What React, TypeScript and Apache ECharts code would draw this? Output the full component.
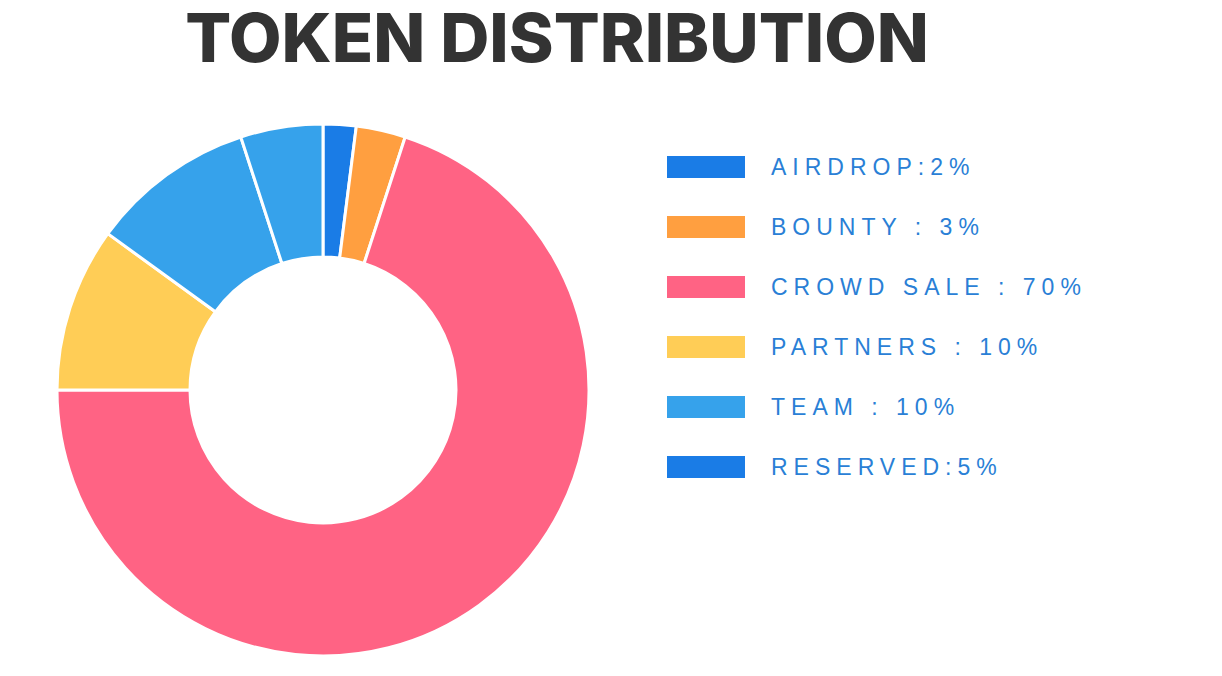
import React, { useEffect, useRef } from "react";
import * as echarts from "echarts";

const titleText = "TOKEN DISTRIBUTION";
const categories = ["AIRDROP:2%", "BOUNTY : 3%", "CROWD SALE : 70%", "PARTNERS : 10%", "TEAM : 10%", "RESERVED:5%"];
const values = [2, 3, 70, 10, 10, 5];
const sliceColors = ["#1A7CE6", "#FF9F40", "#FF6384", "#FFCD56", "#36A2EB", "#36A2EB"];
const legendColors = ["#1A7CE6", "#FF9F40", "#FF6384", "#FFCD56", "#36A2EB", "#1A7CE6"];

export default function App() {
  const ref = useRef<HTMLDivElement>(null);
  useEffect(() => {
    document.body.style.margin = "0";
    const chart = echarts.init(ref.current!, null, { renderer: "svg" });
    chart.setOption({
      animation: false,
      title: {
        text: titleText,
        left: 557,
        top: 3,
        padding: 0,
        textAlign: "center",
        textStyle: { fontFamily: "Inter", fontWeight: 800, fontSize: 68, lineHeight: 68, color: "#333333" },
      },
      legend: {
        orient: "vertical",
        left: 660,
        top: 149,
        itemWidth: 80,
        itemHeight: 24,
        itemGap: 34,
        icon: "rect",
        selectedMode: false,
        data: categories.map((c, i) => ({ name: c, itemStyle: { color: legendColors[i] } })),
        textStyle: {
          fontFamily: "Liberation Sans",
          fontSize: 23,
          lineHeight: 24,
          color: "#2A7FD6",
          padding: [0, 0, 0, 20],
        },
      },
      series: [
        {
          type: "pie",
          center: [323, 390],
          radius: [133, 266],
          startAngle: 90,
          clockwise: true,
          label: { show: false },
          labelLine: { show: false },
          emphasis: { disabled: true },
          itemStyle: { borderColor: "#ffffff", borderWidth: 3 },
          data: categories.map((c, i) => ({ name: c, value: values[i], itemStyle: { color: sliceColors[i] } })),
        },
      ],
    });
    const texts = ref.current!.querySelectorAll("text");
    texts.forEach((t) => {
      if (categories.includes(t.textContent || "")) {
        t.setAttribute("letter-spacing", "6px");
      }
    });
    return () => chart.dispose();
  }, []);
  return <div ref={ref} style={{ width: 1222, height: 676 }} />;
}
